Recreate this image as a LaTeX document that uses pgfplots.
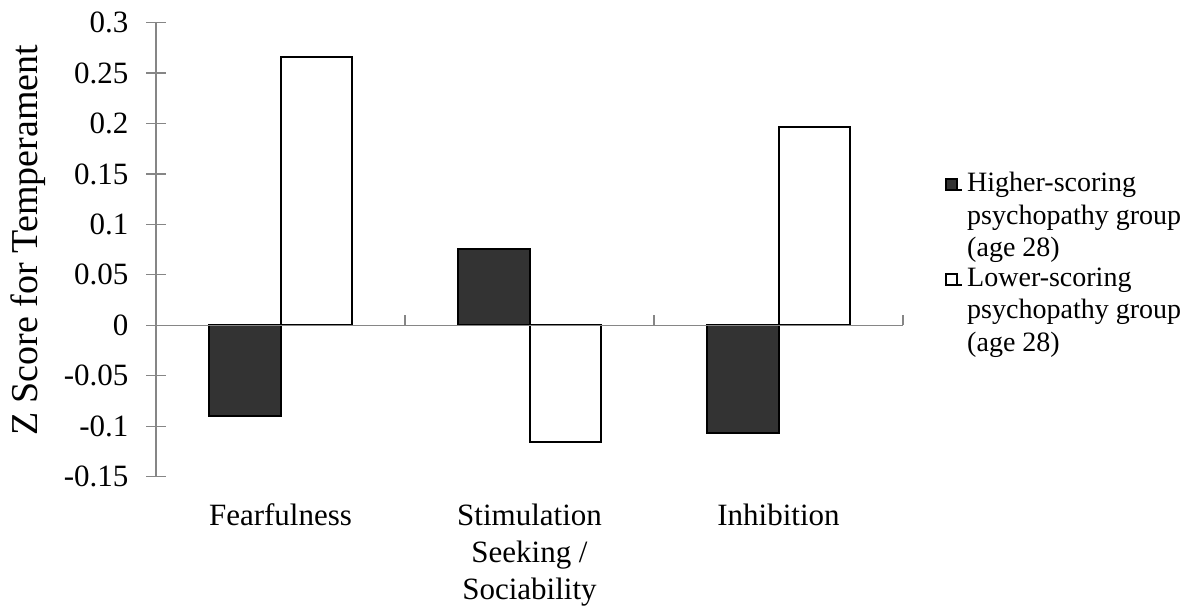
\documentclass[border=0pt]{standalone}
\usepackage{pgfplots}
\pgfplotsset{compat=1.18}
\usepackage{fontspec}
\setmainfont{Liberation Serif}
\definecolor{axisgray}{HTML}{868686}
\definecolor{darkbar}{HTML}{333333}
\begin{document}
\begin{tikzpicture}
\begin{axis}[
  at={(78pt,64.7pt)}, anchor=south west,
  scale only axis, width=373.5pt, height=227pt,
  xmin=-0.5, xmax=2.5, ymin=-0.15, ymax=0.3,
  axis y line*=left, axis x line*=bottom,
  x axis line style={draw=none},
  y axis line style={axisgray, line width=0.6pt},
  ytick={-0.15,-0.1,-0.05,0,0.05,0.1,0.15,0.2,0.25,0.3},
  yticklabels={-0.15,-0.1,-0.05,0,0.05,0.1,0.15,0.2,0.25,0.3},
  ytick style={axisgray, line width=0.6pt},
  tick align=center, major tick length=9.5pt,
  xtick={0,1,2},
  xticklabels={Fearfulness,{Stimulation\\Seeking /\\Sociability},Inhibition},
  xtick style={draw=none},
  tick label style={font=\fontsize{15.5}{18.5}\selectfont},
  xticklabel style={align=center, anchor=north, yshift=-0.5pt},
  yticklabel style={anchor=east, xshift=-5.5pt},
  every axis y label/.style={at={(axis description cs:-0.171,0.52)}, rotate=90, anchor=center, font=\fontsize{19}{22}\selectfont},
  ylabel={Z Score for Temperament},
  ybar=0pt, bar width=35.75pt,
  legend style={at={(1.056,0.68)}, anchor=north west, draw=none, fill=none,
    font=\fontsize{14}{16.25}\selectfont, cells={anchor=west, align=left},
    row sep=0pt, inner sep=0pt},
  legend image code/.code={\draw[#1, line width=0.9pt] (0pt,13pt) rectangle (5.5pt,18.5pt);
     \path (0pt,13pt) -- (8pt,13pt);},
  clip=false,
]
\addplot[draw=black, line width=1pt, fill=darkbar] coordinates {(0,-0.09) (1,0.076) (2,-0.107)};
\addlegendentry{Higher-scoring\\psychopathy group\\(age 28)}
\addplot[draw=black, line width=1pt, fill=white] coordinates {(0,0.266) (1,-0.116) (2,0.197)};
\addlegendentry{Lower-scoring\\psychopathy group\\(age 28)}
\draw[axisgray, line width=0.6pt] (axis cs:-0.5,0) -- (axis cs:2.5,0);
\draw[axisgray, line width=0.6pt] (axis cs:0.5,0) -- (axis cs:0.5,0.0099);
\draw[axisgray, line width=0.6pt] (axis cs:1.5,0) -- (axis cs:1.5,0.0099);
\draw[axisgray, line width=0.6pt] (axis cs:2.5,0) -- (axis cs:2.5,0.0099);
\end{axis}
\pgfresetboundingbox
\path[use as bounding box] (0,0) rectangle (596pt,303pt);
\end{tikzpicture}
\end{document}
